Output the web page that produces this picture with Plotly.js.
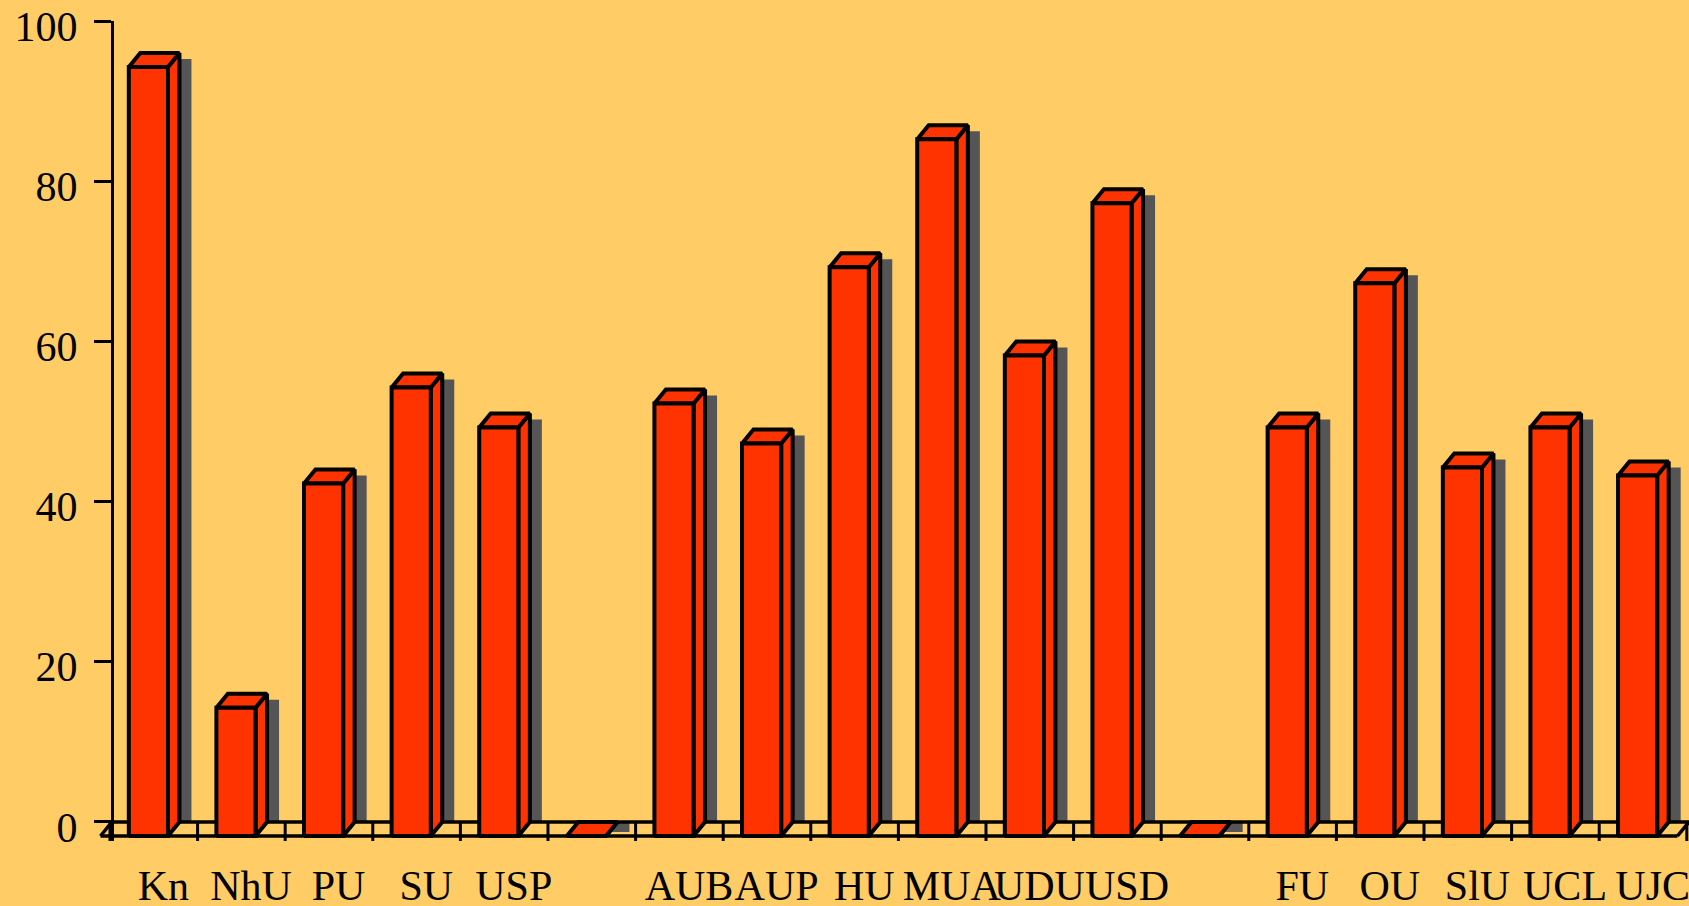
<!DOCTYPE html>
<html>
<head>
<meta charset="utf-8">
<script src="https://cdn.plot.ly/plotly-3.0.1.min.js"></script>
<style>
  html, body { margin: 0; padding: 0; background: #FFCC66; }
  #chart { width: 1689px; height: 906px; }
</style>
</head>
<body>
<div id="chart"></div>
<script>
// ---- data ----
const categories = ["Kn", "NhU", "PU", "SU", "USP", "", "AUB", "AUP", "HU", "MUA", "UDU", "USD", "", "FU", "OU", "SlU", "UCL", "UJC"];
const values = [96, 16, 44, 56, 51, 0, 54, 49, 71, 87, 60, 79, 0, 51, 69, 46, 51, 45];
const yTickValues = [0, 20, 40, 60, 80, 100];
const yTickLabels = ["0", "20", "40", "60", "80", "100"];

// ---- pseudo-3D geometry (in axis units) ----
const FX0 = -0.285, FX1 = 0.162;   // front face left / right relative to category
const DX = 0.131, DY = 1.75;       // depth offset
const SX0 = 0.30, SX1 = 0.43, SDROP = 0.75; // shadow
const RED = "#FF3300", SHADOW = "#555555", BG = "#FFCC66";
const n = categories.length;
const xs = categories.map((c, i) => i);

const frontFace = {x: [], y: []}, sideFace = {x: [], y: []}, topFace = {x: [], y: []}, shadowFace = {x: [], y: []};
function poly(o, pts) { pts.forEach(p => { o.x.push(p[0]); o.y.push(p[1]); }); o.x.push(null); o.y.push(null); }

xs.forEach((i, k) => {
  const v = values[k];
  poly(frontFace, [[i + FX0, -DY], [i + FX1, -DY], [i + FX1, v - DY], [i + FX0, v - DY], [i + FX0, -DY]]);
  poly(sideFace, [[i + FX1, -DY], [i + FX1 + DX, 0], [i + FX1 + DX, v], [i + FX1, v - DY], [i + FX1, -DY]]);
  poly(topFace, [[i + FX0, v - DY], [i + FX1, v - DY], [i + FX1 + DX, v], [i + FX0 + DX, v], [i + FX0, v - DY]]);
  if (v > 0) {
    poly(shadowFace, [[i + SX0, 0], [i + SX1, 0], [i + SX1, v - SDROP], [i + SX0, v - SDROP], [i + SX0, 0]]);
  } else {
    poly(shadowFace, [[i + SX0 + 0.02, 0], [i + SX1, 0], [i + SX1, -1.25], [i + SX0 - 0.08, -1.25], [i + SX0 + 0.02, 0]]);
  }
});

// floor outline and category ticks
const xLeft = -0.5 + 2 / 87.6, xRight = 17.525;
const floorLines = {
  x: [xLeft, xRight, null, xLeft - DX, xRight - DX, null, xLeft, xLeft - DX, null, xRight, xRight - DX],
  y: [0, 0, null, -DY, -DY, null, 0, -DY, null, 0, -DY]
};
const catTicks = {x: [], y: []};
for (let b = 0; b <= n; b++) { catTicks.x.push(b - 0.5, b - 0.5, null); catTicks.y.push(0, -2.4, null); }

const outline = {color: "#000000", width: 4};
const traces = [
  {type: "scatter", mode: "lines", x: shadowFace.x, y: shadowFace.y, fill: "toself", fillcolor: SHADOW, line: {width: 0, color: SHADOW}, hoverinfo: "skip"},
  {type: "scatter", mode: "lines", x: floorLines.x, y: floorLines.y, line: {color: "#000000", width: 3.5}, hoverinfo: "skip"},
  {type: "scatter", mode: "lines", x: catTicks.x, y: catTicks.y, line: {color: "#000000", width: 3}, hoverinfo: "skip"},
  {type: "scatter", mode: "lines", x: sideFace.x, y: sideFace.y, fill: "toself", fillcolor: RED, line: outline, hoverinfo: "skip"},
  {type: "scatter", mode: "lines", x: topFace.x, y: topFace.y, fill: "toself", fillcolor: RED, line: outline, hoverinfo: "skip"},
  {type: "scatter", mode: "lines", x: frontFace.x, y: frontFace.y, fill: "toself", fillcolor: RED, line: outline, hoverinfo: "skip"}
];

const font = {family: "Liberation Serif, Times New Roman, serif", size: 42, color: "#000000"};
const layout = {
  width: 1689, height: 906,
  margin: {l: 90, r: 0, t: 21, b: 65, pad: 0},
  paper_bgcolor: BG, plot_bgcolor: BG,
  showlegend: false,
  font: font,
  xaxis: {
    range: [-0.728, 17.525],
    tickmode: "array", tickvals: xs.map(i => i + 0.11), ticktext: categories,
    tickangle: 0, ticklabeloverflow: "allow",
    ticks: "", showline: false, showgrid: false, zeroline: false,
    tickfont: font, ticklabelstandoff: 16, fixedrange: true
  },
  yaxis: {
    range: [-2.374, 100],
    anchor: "free", position: 22 / 1599,
    tickmode: "array", tickvals: yTickValues, ticktext: yTickLabels,
    ticklabeloverflow: "allow", ticklabelshift: 5,
    ticks: "outside", ticklen: 17, tickwidth: 3, tickcolor: "#000000",
    showline: true, linewidth: 3, linecolor: "#000000",
    showgrid: false, zeroline: false, tickfont: font, ticklabelstandoff: 8, fixedrange: true
  }
};
Plotly.newPlot("chart", traces, layout, {displayModeBar: false, staticPlot: true});
</script>
</body>
</html>
